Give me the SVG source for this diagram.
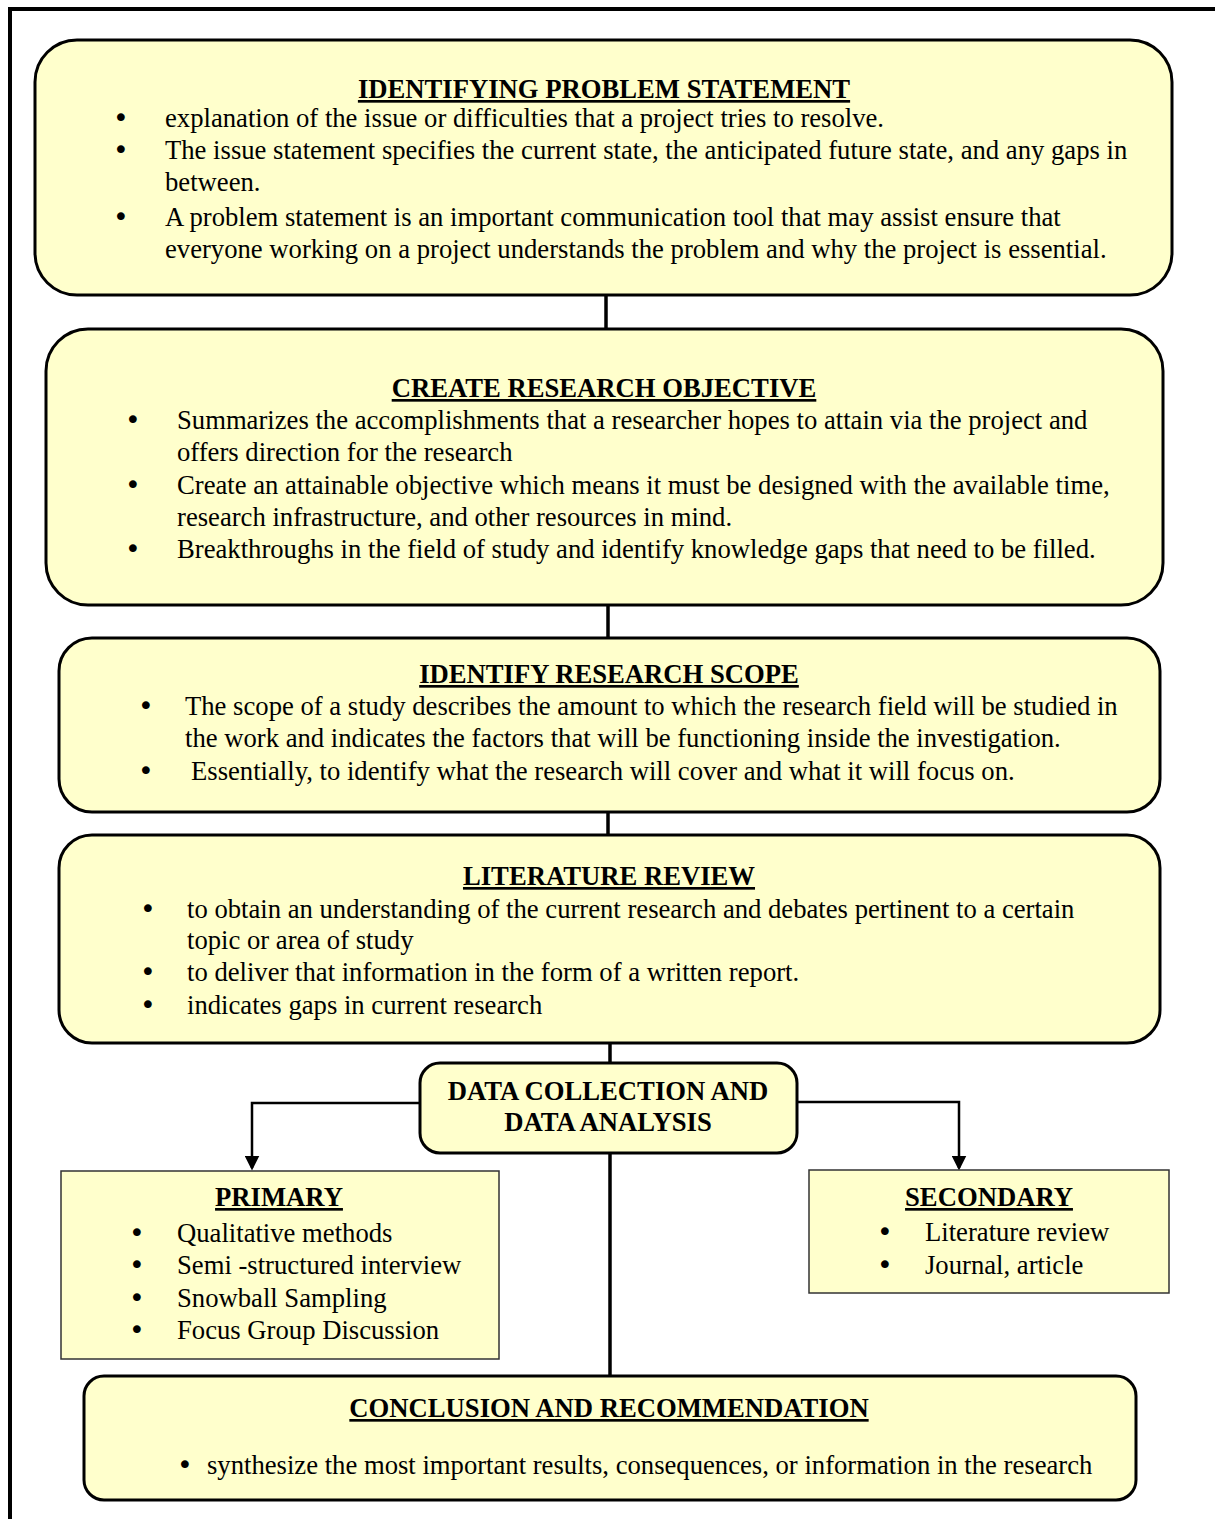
<svg xmlns="http://www.w3.org/2000/svg" width="1215" height="1519" viewBox="0 0 1215 1519">
<style>
.box{fill:#FFFFCC;stroke:#000;stroke-width:3}
.sq{fill:#FFFFCC;stroke:#333;stroke-width:1.5}
text{font-family:"Liberation Serif","Times New Roman",serif;font-size:26.67px;fill:#000}
.h{font-weight:bold;text-decoration:underline;text-anchor:middle}
.b{font-weight:bold;text-anchor:middle}
.d{font-family:"DejaVu Sans",sans-serif;font-size:26.67px}
.line{stroke:#000;stroke-width:3.5;fill:none}
.arr{stroke:#000;stroke-width:2.5;fill:none}
</style>
<defs>
<marker id="ah" markerWidth="6" markerHeight="6" refX="5" refY="3" orient="auto" markerUnits="strokeWidth">
<path d="M0,0 L6,3 L0,6 Z" fill="#000"/>
</marker>
</defs>
<rect x="10" y="9" width="1225" height="1530" fill="none" stroke="#000" stroke-width="4"/>
<g id="connectors">
<line class="line" x1="606" y1="295" x2="606" y2="329"/>
<line class="line" x1="608" y1="605" x2="608" y2="638"/>
<line class="line" x1="608" y1="812" x2="608" y2="835"/>
<line class="line" x1="610" y1="1043" x2="610" y2="1063"/>
<line class="line" x1="610" y1="1153" x2="610" y2="1376"/>
<path class="arr" d="M420,1103 H252 V1168" marker-end="url(#ah)"/>
<path class="arr" d="M797,1102 H959 V1168" marker-end="url(#ah)"/>
</g>
<g id="node-problem">
<rect class="box" x="35" y="40" width="1137" height="255" rx="42"/>
<text class="h" x="604" y="98">IDENTIFYING PROBLEM STATEMENT</text>
<text class="d" x="113" y="127">•</text><text x="165" y="127">explanation of the issue or difficulties that a project tries to resolve.</text>
<text class="d" x="113" y="159">•</text><text x="165" y="159">The issue statement specifies the current state, the anticipated future state, and any gaps in</text>
<text x="165" y="191">between.</text>
<text class="d" x="113" y="226">•</text><text x="165" y="226">A problem statement is an important communication tool that may assist ensure that</text>
<text x="165" y="258">everyone working on a project understands the problem and why the project is essential.</text>
</g>
<g id="node-objective">
<rect class="box" x="46" y="329" width="1117" height="276" rx="42"/>
<text class="h" x="604" y="397">CREATE RESEARCH OBJECTIVE</text>
<text class="d" x="125" y="429">•</text><text x="177" y="429">Summarizes the accomplishments that a researcher hopes to attain via the project and</text>
<text x="177" y="461">offers direction for the research</text>
<text class="d" x="125" y="494">•</text><text x="177" y="494">Create an attainable objective which means it must be designed with the available time,</text>
<text x="177" y="526">research infrastructure, and other resources in mind.</text>
<text class="d" x="125" y="558">•</text><text x="177" y="558">Breakthroughs in the field of study and identify knowledge gaps that need to be filled.</text>
</g>
<g id="node-scope">
<rect class="box" x="59" y="638" width="1101" height="174" rx="33"/>
<text class="h" x="609" y="683">IDENTIFY RESEARCH SCOPE</text>
<text class="d" x="138" y="715">•</text><text x="185" y="715">The scope of a study describes the amount to which the research field will be studied in</text>
<text x="185" y="747">the work and indicates the factors that will be functioning inside the investigation.</text>
<text class="d" x="138" y="780">•</text><text x="191" y="780">Essentially, to identify what the research will cover and what it will focus on.</text>
</g>
<g id="node-literature">
<rect class="box" x="59" y="835" width="1101" height="208" rx="33"/>
<text class="h" x="609" y="885">LITERATURE REVIEW</text>
<text class="d" x="140" y="918">•</text><text x="187" y="918">to obtain an understanding of the current research and debates pertinent to a certain</text>
<text x="187" y="949">topic or area of study</text>
<text class="d" x="140" y="981">•</text><text x="187" y="981">to deliver that information in the form of a written report.</text>
<text class="d" x="140" y="1014">•</text><text x="187" y="1014">indicates gaps in current research</text>
</g>
<g id="node-data">
<rect class="box" x="420" y="1063" width="377" height="90" rx="20"/>
<text class="b" x="608" y="1100">DATA COLLECTION AND</text>
<text class="b" x="608" y="1131">DATA ANALYSIS</text>
</g>
<g id="node-primary">
<rect class="sq" x="61" y="1171" width="438" height="188"/>
<text class="h" x="279" y="1206">PRIMARY</text>
<text class="d" x="129" y="1242">•</text><text x="177" y="1242">Qualitative methods</text>
<text class="d" x="129" y="1274">•</text><text x="177" y="1274">Semi -structured interview</text>
<text class="d" x="129" y="1307">•</text><text x="177" y="1307">Snowball Sampling</text>
<text class="d" x="129" y="1339">•</text><text x="177" y="1339">Focus Group Discussion</text>
</g>
<g id="node-secondary">
<rect class="sq" x="809" y="1170" width="360" height="123"/>
<text class="h" x="989" y="1206">SECONDARY</text>
<text class="d" x="877" y="1241">•</text><text x="925" y="1241">Literature review</text>
<text class="d" x="877" y="1274">•</text><text x="925" y="1274">Journal, article</text>
</g>
<g id="node-conclusion">
<rect class="box" x="84" y="1376" width="1052" height="124" rx="20"/>
<text class="h" x="609" y="1417">CONCLUSION AND RECOMMENDATION</text>
<text class="d" x="177" y="1474">•</text><text x="207" y="1474">synthesize the most important results, consequences, or information in the research</text>
</g>
</svg>
